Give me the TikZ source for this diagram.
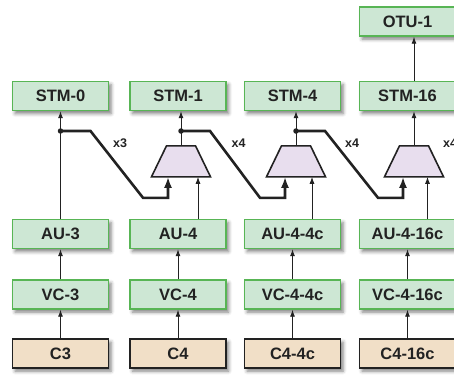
\documentclass[tikz,border=0pt]{standalone}
\usepackage{fontspec}
\setmainfont{Liberation Sans}
\usetikzlibrary{arrows.meta,shadows.blur,calc}
\definecolor{layerfill}{HTML}{CDE7D4}
\definecolor{layerline}{HTML}{58B555}
\definecolor{payloadfill}{HTML}{F1DFC7}
\definecolor{muxfill}{HTML}{E8DEEE}
\definecolor{ink}{HTML}{222222}
\begin{document}
\begin{tikzpicture}[x=1pt,y=-1pt,
  every node/.style={font=\bfseries\fontsize{16.5}{18}\selectfont, text=ink},
  layer/.style={draw=layerline, fill=layerfill, line width=1.4pt,
    minimum width=96pt, minimum height=29pt, inner sep=0pt,
    blur shadow={shadow xshift=2.5pt, shadow yshift=-3pt, shadow blur radius=3.5pt, shadow opacity=50}},
  payload/.style={layer, draw=ink, fill=payloadfill},
  muxbox/.style={rectangle, minimum width=59pt, minimum height=31pt, inner sep=0pt, outer sep=0pt},
  muxshape/.style={draw=ink, line width=1.6pt, fill=muxfill, line join=miter},
  link/.style={draw=ink, line width=0.9pt, -{Latex[length=7pt,width=5pt]}},
  bus/.style={draw=ink, line width=2.6pt, line join=miter, -{Latex[length=11pt,width=8pt]}},
  mult/.style={font=\bfseries\fontsize{12.5}{14}\selectfont},
  junction/.style={circle, fill=ink, inner sep=0pt, minimum size=5.5pt}
]
\useasboundingbox (0,0) rectangle (454,375);

% payload containers
\node[payload] (c1) at (60.5,353.5) {C3};
\node[payload] (c2) at (178,353.5) {C4};
\node[payload] (c3) at (292.5,353.5) {C4-4c};
\node[payload] (c4) at (407.5,353.5) {C4-16c};

% virtual containers
\node[layer] (vc1) at (60.5,294.5) {VC-3};
\node[layer] (vc2) at (178,294.5) {VC-4};
\node[layer] (vc3) at (292.5,294.5) {VC-4-4c};
\node[layer] (vc4) at (407.5,294.5) {VC-4-16c};

% administrative units
\node[layer] (au1) at (60.5,234) {AU-3};
\node[layer] (au2) at (178,234) {AU-4};
\node[layer] (au3) at (292.5,234) {AU-4-4c};
\node[layer] (au4) at (407.5,234) {AU-4-16c};

% transport modules
\node[layer] (stm0) at (60.5,96) {STM-0};
\node[layer] (stm1) at (178,96) {STM-1};
\node[layer] (stm4) at (292.5,96) {STM-4};
\node[layer] (stm16) at (407.5,96) {STM-16};
\node[layer] (otu) at (407.5,21.5) {OTU-1};

% multiplexers: trapezoids with the wide side at the bottom
\foreach \m/\x in {m2/181, m3/296, m4/414} {
  \node[muxbox] (\m) at (\x,161.3) {};
  \draw[muxshape] (\m.south west) -- (\m.south east)
    -- ($(\m.north east)+(-15,0)$) -- ($(\m.north west)+(15,0)$) -- cycle;
}

% multiplexer inputs
\coordinate (m2l) at ($(m2.south)+(-13,0)$);
\coordinate (m2r) at ($(m2.south)+(17,0)$);
\coordinate (m3l) at ($(m3.south)+(-11,0)$);
\coordinate (m3r) at ($(m3.south)+(16,0)$);
\coordinate (m4l) at ($(m4.south)+(-11,0)$);
\coordinate (m4r) at ($(m4.south)+(13.5,0)$);

% mapping chains
\foreach \k in {1,2,3,4} {
  \draw[link] (c\k.north) -- (vc\k.south);
  \draw[link] (vc\k.north) -- (au\k.south);
}
\draw[link] (au1.north) -- (stm0.south);
\draw[link] (au2.north -| m2r) -- (m2r);
\draw[link] (au3.north -| m3r) -- (m3r);
\draw[link] (au4.north -| m4r) -- (m4r);

% multiplexer outputs
\draw[link] (m2.north) -- (m2.north |- stm1.south);
\draw[link] (m3.north) -- (m3.north |- stm4.south);
\draw[link] (m4.north) -- (m4.north |- stm16.south);
\draw[link] (m4.north |- stm16.north) -- (m4.north |- otu.south);

% taps feeding the next multiplexer
\coordinate (j1) at (60.5,131);
\coordinate (j2) at (m2.north |- j1);
\coordinate (j3) at (m3.north |- j1);
\draw[bus] (j1) -- ++(30,0) -- ($(m2l)+(-25,21)$) -- ($(m2l)+(0,21)$) -- (m2l);
\draw[bus] (j2) -- ++(29,0) -- ($(m3l)+(-25,21)$) -- ($(m3l)+(0,21)$) -- (m3l);
\draw[bus] (j3) -- ++(29,0) -- ($(m4l)+(-25,21)$) -- ($(m4l)+(0,21)$) -- (m4l);
\node[junction] (d1) at (j1) {};
\node[junction] (d2) at (j2) {};
\node[junction] (d3) at (j3) {};

% multiplexing factors
\node[mult] (f1) at (120,143) {x3};
\node[mult] (f2) at (238.5,143) {x4};
\node[mult] (f3) at (352,143) {x4};
\node[mult] (f4) at (450,143) {x4};
\end{tikzpicture}
\end{document}
